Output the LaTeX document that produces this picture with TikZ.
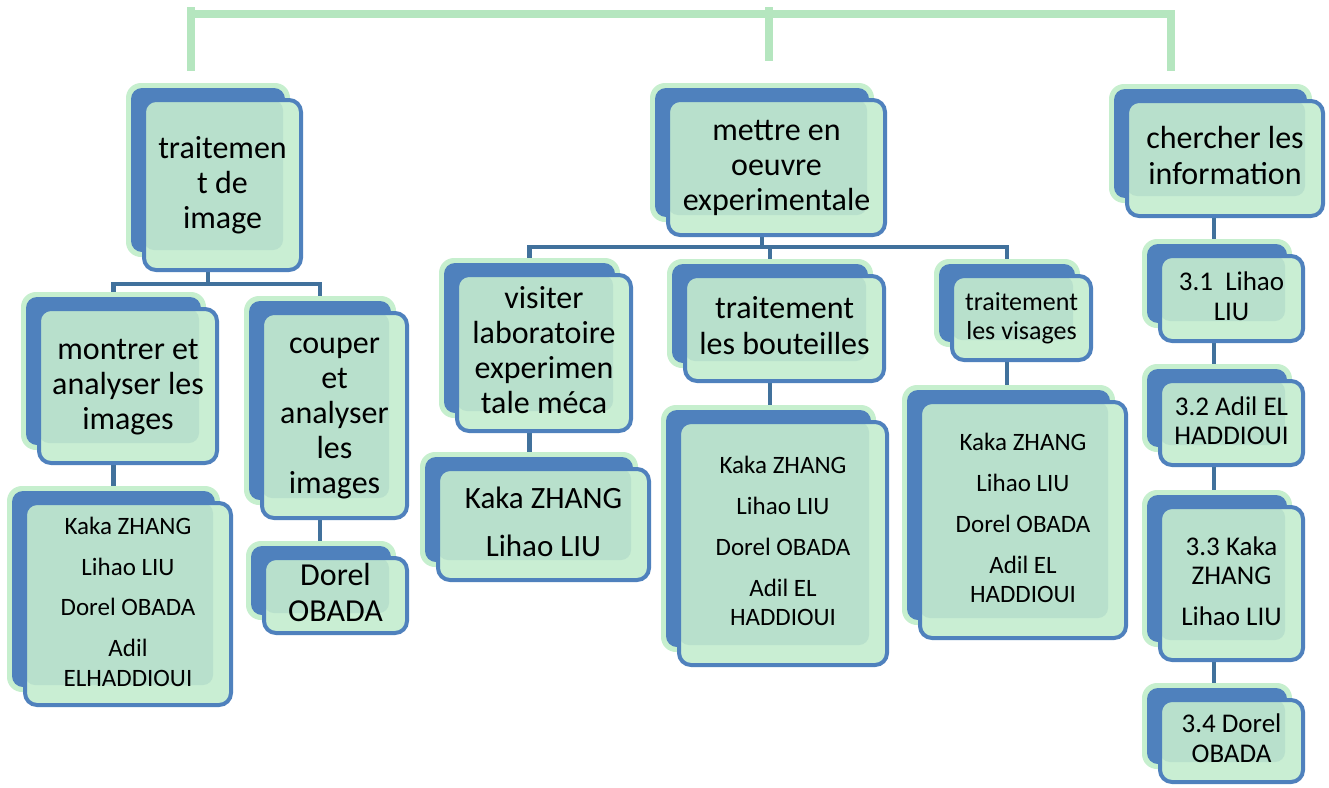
\documentclass[tikz,border=0pt]{standalone}
\usepackage{fontspec}
\setmainfont{Carlito}
\usetikzlibrary{calc}
\definecolor{bblue}{HTML}{4F81BD}
\definecolor{halo}{HTML}{C6EFCE}
\definecolor{lightfill}{HTML}{C9EED3}
\definecolor{darkfill}{HTML}{B8E0CC}
\definecolor{connc}{HTML}{41719C}
\definecolor{topgreen}{HTML}{B5E6BF}
\pgfdeclarelayer{paper}
\pgfdeclarelayer{bg}
\pgfsetlayers{paper,bg,main}
\newcommand\st{\vrule width 0pt height .72em depth .22em\relax}
\tikzset{
  frontbox/.style={draw=bblue, line width=4pt, rounded corners=12pt, inner sep=0pt, align=center, text=black},
  conn/.style={draw=connc, line width=4.5pt},
  topline/.style={draw=topgreen, line width=8pt}
}
% #1 name, #2 x1, #3 y1, #4 x2, #5 y2, #6 font, #7 text
\newcommand{\smartbox}[7]{%
  \fill[halo, rounded corners=15pt] (#2-16,#3-15) rectangle (#4-13,#5-15);
  \fill[bblue, rounded corners=11pt] (#2-11,#3-10) rectangle (#4-18,#5-20);
  \fill[lightfill, rounded corners=12pt] (#2+2,#3+2) rectangle (#4-2,#5-2);
  \fill[darkfill, rounded corners=10pt] (#2+2,#3+2) rectangle (#4-20,#5-22);
  \node[frontbox, font={#6}, minimum width={(#4-#2-4)*1pt}, minimum height={(#5-#3-4)*1pt}]
    (#1) at ({(#2+#4)/2},{(#3+#5)/2}) {#7};
}
\begin{document}
\begin{tikzpicture}[x=1pt,y=-1pt]
\begin{pgfonlayer}{paper}
\fill[white] (0,0) rectangle (1329,787);
\end{pgfonlayer}
\useasboundingbox (0,0) rectangle (1329,787);

% top green lines
\coordinate (tl1) at (191,7);
\coordinate (tl2) at (191,71);
\coordinate (tm1) at (769,7);
\coordinate (tm2) at (769,61);
\coordinate (th0) at (187,13.5);
\coordinate (tr1) at (1171,13.5);
\coordinate (tr2) at (1171,71);
\draw[topline] (tl1) -- (tl2);
\draw[topline] (tm1) -- (tm2);
\draw[topline] (th0) -- (tr1) -- (tr2);

% boxes
\smartbox{A}{142}{98}{303}{272}{\fontsize{32}{35}\selectfont}{\st traitemen\\\st t de\\\st image}
\smartbox{B}{666}{98}{887}{237}{\fontsize{32}{35}\selectfont}{\st mettre en\\\st oeuvre\\\st experimentale}
\smartbox{C}{1125}{99}{1325}{218}{\fontsize{32}{36}\selectfont}{\st chercher les\\\st information}
\smartbox{D}{37}{307}{219}{465}{\fontsize{32}{35}\selectfont}{\st montrer et\\\st analyser les\\\st images}
\smartbox{E}{260}{311}{409}{520}{\fontsize{32}{35}\selectfont}{\st couper\\\st et\\\st analyser\\\st les\\\st images}
\smartbox{F}{23}{501}{233}{707}{\fontsize{25}{30}\selectfont}{\st Kaka ZHANG\\[10.5pt]\st Lihao LIU\\[10.5pt]\st Dorel OBADA\\[10.5pt]\st Adil\\\st ELHADDIOUI}
\smartbox{G}{262}{556}{409}{635}{\fontsize{32}{36}\selectfont}{\st Dorel\\\st OBADA}
\smartbox{H}{455}{273}{633}{433}{\fontsize{32}{35}\selectfont}{\st visiter\\\st laboratoire\\\st experimen\\\st tale méca}
\smartbox{I}{436}{467}{651}{582}{\fontsize{31}{34}\selectfont}{\st Kaka ZHANG\\[14pt]\st Lihao LIU}
\smartbox{J}{683}{274}{886}{383}{\fontsize{32}{36}\selectfont}{\st traitement\\\st les bouteilles}
\smartbox{K}{677}{420}{889}{667}{\fontsize{25}{29}\selectfont}{\st Kaka ZHANG\\[12pt]\st Lihao LIU\\[12pt]\st Dorel OBADA\\[12pt]\st Adil EL\\\st HADDIOUI}
\smartbox{L}{950}{274}{1093}{362}{\fontsize{26}{29}\selectfont}{\st traitement\\\st les visages}
\smartbox{M}{918}{400}{1128}{640}{\fontsize{25}{29}\selectfont}{\st Kaka ZHANG\\[12pt]\st Lihao LIU\\[12pt]\st Dorel OBADA\\[12pt]\st Adil EL\\\st HADDIOUI}
\smartbox{N}{1158}{254}{1305}{343}{\fontsize{27}{30}\selectfont}{\st 3.1\ \ Lihao\\\st LIU}
\smartbox{O}{1158}{379}{1305}{467}{\fontsize{27}{29}\selectfont}{\st 3.2 Adil EL\\\st HADDIOUI}
\smartbox{P}{1158}{505}{1305}{662}{\fontsize{27}{29}\selectfont}{\st 3.3 Kaka\\\st ZHANG\\[12pt]\st Lihao LIU}
\smartbox{Q}{1158}{698}{1305}{784}{\fontsize{27}{30}\selectfont}{\st 3.4 Dorel\\\st OBADA}

% connectors (behind the boxes)
\begin{pgfonlayer}{bg}
\coordinate (busL) at (0,284);
\coordinate (busM) at (0,247);
\coordinate (Rx) at (1214,0);
\foreach \n in {A,B,D,E,H,J,L}{
  \coordinate (\n-s) at ($(\n.south)+(-14.5,0)$);
}
\foreach \n in {D,E,F,G,H,I,J,K,L,M}{
  \coordinate (\n-n) at ($(\n.north)+(-14.5,0)$);
}
\draw[conn] (A-s) -- (A-s |- busL);
\draw[conn] (D-n) |- (E-n |- busL) -- (E-n);
\draw[conn] (D-s) -- (D-s |- F-n);
\draw[conn] (E-s) -- (E-s |- G-n);
\draw[conn] (B-s) -- (B-s |- busM);
\draw[conn] (H-n) |- (L-n |- busM) -- (L-n);
\draw[conn] (J-n) -- (J-n |- busM);
\draw[conn] (H-s) -- (H-s |- I-n);
\draw[conn] (J-s) -- (J-s |- K-n);
\draw[conn] (L-s) -- (L-s |- M-n);
\draw[conn] (C.south -| Rx) -- (N.north -| Rx);
\draw[conn] (N.south -| Rx) -- (O.north -| Rx);
\draw[conn] (O.south -| Rx) -- (P.north -| Rx);
\draw[conn] (P.south -| Rx) -- (Q.north -| Rx);
\end{pgfonlayer}
\end{tikzpicture}
\end{document}
